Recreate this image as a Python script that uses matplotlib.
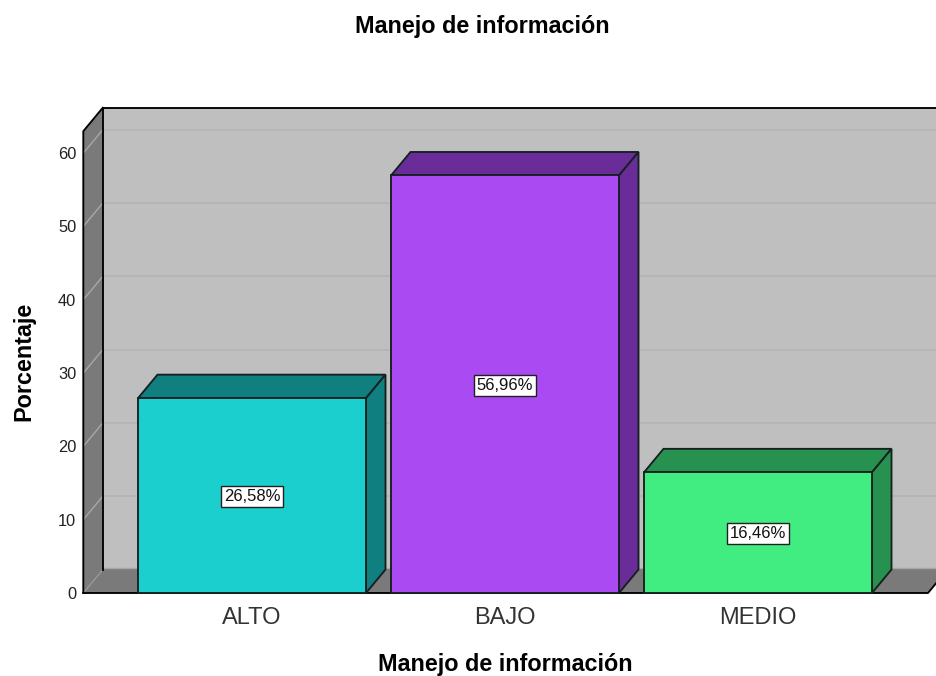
import matplotlib
matplotlib.use("Agg")
import matplotlib.pyplot as plt
from matplotlib.patches import Polygon

categorias = ['ALTO', 'BAJO', 'MEDIO']
porcentajes = [26.58, 56.96, 16.46]
etiquetas = ['26,58%', '56,96%', '16,46%']
yticks = [0, 10, 20, 30, 40, 50, 60]

colores = ['#1bcfcf', '#a94af2', '#41ec80']
colores_osc = ['#107f7f', '#6a2c98', '#27924f']
pared = '#bfbfbf'
piso = '#7a7a7a'
borde = '#152020'

plt.rcParams['font.family'] = ['Liberation Sans', 'DejaVu Sans']

W, H = 936, 676
fig = plt.figure(figsize=(W / 100, H / 100), dpi=100, facecolor='white')

# axes placed by pixels so the scales line up with the picture
left, right, top, bottom = 83.3, 936, 107, 593
ax = fig.add_axes([left / W, 1 - bottom / H, (right - left) / W, (bottom - top) / H])
px_x = 253.0   # px per category
px_y = 7.33    # px per percent
ax.set_xlim((left - 252) / px_x, (right - 252) / px_x)
ax.set_ylim(0, (bottom - top) / px_y)
ax.patch.set_visible(False)
for s in ax.spines.values():
    s.set_visible(False)

dx = 19.5 / px_x
dy = 23.5 / px_y
x0 = ax.get_xlim()[0]
x1 = (928 - 252) / px_x
ytop = 63.0
ancho = 228 / px_x
lw = 1.35


def poly(puntos, color, z, ec='black', lw=lw):
    ax.add_patch(Polygon(puntos, closed=True, facecolor=color, edgecolor=ec, linewidth=lw, zorder=z,
                         joinstyle='miter'))


# back wall, floor, left wall
ax.add_patch(Polygon([(x0 + dx, dy), (x1 + dx + 0.2, dy), (x1 + dx + 0.2, ytop + dy), (x0 + dx, ytop + dy)],
                     closed=True, facecolor=pared, edgecolor='none', zorder=1))
ax.plot([x0 + dx, x1 + dx + 0.2], [ytop + dy, ytop + dy], color='black', lw=lw, zorder=3, clip_on=False)
ax.plot([x0 + dx, x0 + dx], [dy, ytop + dy], color='black', lw=lw, zorder=3)
ax.add_patch(Polygon([(x0, 0), (x1, 0), (x1 + dx, dy + 0.2), (x0 + dx, dy + 0.2)], closed=True,
                     facecolor=piso, edgecolor='none', zorder=2))
ax.plot([x0 + dx, x1 + dx], [dy + 0.2, dy + 0.2], color='#a6a6a6', lw=1.0, zorder=2.5)
ax.add_patch(Polygon([(x0, 0), (x0 + dx, dy), (x0 + dx, ytop + dy), (x0, ytop)], closed=True,
                     facecolor=piso, edgecolor='none', zorder=2))
ax.plot([x0, x0, x0 + dx], [0, ytop, ytop + dy], color='black', lw=lw, zorder=3, clip_on=False)
ax.plot([x0, x1, x1 + dx], [0, 0, dy], color='black', lw=lw, zorder=3, clip_on=False)

# gridlines on wall and side
for t in yticks[1:]:
    ax.plot([x0 + dx, x1 + dx + 0.2], [t + dy, t + dy], color='#b4b4b4', lw=1.2, zorder=1.5)
    ax.plot([x0, x0 + dx], [t, t + dy], color='#a8a8a8', lw=1.0, zorder=2.5)
ax.plot([x0, x0 + dx], [0, dy], color='#a0a0a0', lw=0.8, zorder=2.5)

# bars
pos = list(range(len(categorias)))
for i, v in enumerate(porcentajes):
    xa = pos[i] - ancho / 2
    xb = pos[i] + ancho / 2
    poly([(xa, v), (xb, v), (xb + dx, v + dy), (xa + dx, v + dy)], colores_osc[i], 4, ec=borde)
    poly([(xb, 0), (xb + dx, dy), (xb + dx, v + dy), (xb, v)], colores_osc[i], 4, ec=borde)
ax.bar(pos, porcentajes, width=ancho, color=colores, edgecolor=borde, linewidth=lw, zorder=5, clip_on=False)

for i, v in enumerate(porcentajes):
    ax.text(pos[i], v / 2 - 0.15, etiquetas[i], ha='center', va='center', fontsize=12, color='#111111', zorder=6,
            bbox=dict(boxstyle='square,pad=0.17', facecolor='white', edgecolor='#202020', linewidth=1.0))

ax.set_yticks(yticks)
ax.set_yticklabels([str(t) for t in yticks], fontsize=11.8, color='#222222')
ax.set_xticks(pos)
ax.set_xticklabels(categorias, fontsize=17, color='#333333')
ax.tick_params(axis='both', length=0)
ax.tick_params(axis='y', pad=5)
ax.tick_params(axis='x', pad=10)

fig.text(482 / W, 1 - 27 / H, 'Manejo de información', ha='center', va='center', fontsize=16.8,
         fontweight='bold', color='black')
fig.text(505 / W, 1 - 664 / H, 'Manejo de información', ha='center', va='center', fontsize=16.8,
         fontweight='bold', color='black')
fig.text(24 / W, 1 - 361 / H, 'Porcentaje', ha='center', va='center', rotation=90, fontsize=16.8,
         fontweight='bold', color='black')

fig.savefig('out.png', dpi=100, facecolor='white')
